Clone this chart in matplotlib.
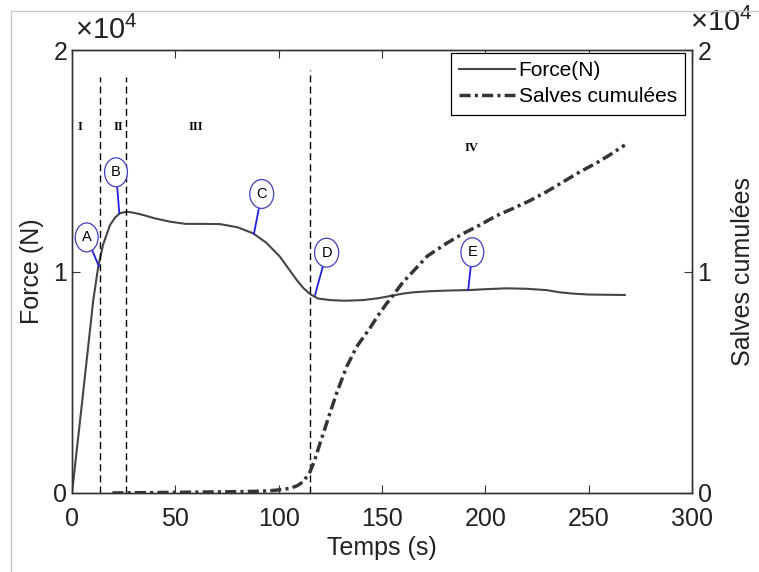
import matplotlib
matplotlib.use("Agg")
import matplotlib.pyplot as plt
from matplotlib.patches import Rectangle
from matplotlib.ticker import ScalarFormatter

plt.rcParams["font.family"] = ["Liberation Sans", "DejaVu Sans"]
plt.rcParams["mathtext.fontset"] = "custom"
plt.rcParams["mathtext.rm"] = "Liberation Sans"

# --- données ---
t_force = [0, 5, 10.3, 12.7, 15, 18.4, 21, 23.2, 26.5, 30, 34.5, 40, 47.4, 55, 63,
           71.6, 80, 87.7, 94, 100.6, 105, 108.7, 112, 115.2, 119, 124.8, 132,
           140.9, 148, 155.5, 160, 165, 173.2, 182, 191.7, 200, 210, 220, 229.6, 236,
           242.5, 250, 258, 267.5]
force = [0, 0.42, 0.871, 1.022, 1.12, 1.21, 1.245, 1.263, 1.27, 1.265, 1.255, 1.24,
         1.225, 1.215, 1.215, 1.214, 1.2, 1.172, 1.13, 1.067, 1.01, 0.962, 0.925,
         0.898, 0.878, 0.871, 0.868, 0.871, 0.879, 0.892, 0.9, 0.906, 0.911, 0.914,
         0.916, 0.92, 0.924, 0.922, 0.916, 0.906, 0.90, 0.896, 0.895, 0.894]
force = [f * 1e4 for f in force]

t_salves = [19.5, 30, 40, 50, 60, 70, 80, 90, 95.8, 100, 105.5, 109, 111.9, 115.2,
            117.5, 120, 123.2, 128, 132.9, 137.7, 144.2, 148, 152.2, 155.5, 160, 165,
            172, 181.2, 189, 197.4, 205, 213.5, 221.6, 229.6, 237.7, 245.8, 253.8,
            260, 267.5]
salves = [0, 0.001, 0.002, 0.003, 0.004, 0.005, 0.006, 0.008, 0.010, 0.014, 0.021,
          0.033, 0.051, 0.096, 0.15, 0.224, 0.315, 0.45, 0.57, 0.66, 0.745, 0.80,
          0.855, 0.894, 0.95, 1.0, 1.07, 1.127, 1.17, 1.21, 1.25, 1.285, 1.32, 1.36,
          1.405, 1.45, 1.49, 1.525, 1.571]
salves = [s * 1e4 for s in salves]

# limites des phases (s) et hauteur des traits
phase_t = [13.5, 26, 115]
phase_top = [1.88e4, 1.88e4, 1.91e4]
phase_names = ["I", "II", "III", "IV"]
phase_pos = [(3.9, 1.654e4), (22.4, 1.654e4), (60, 1.654e4), (193.3, 1.556e4)]

# points repères A..E : point sur la courbe, position de l'étiquette
marks = ["A", "B", "C", "D", "E"]
mark_pt = [(13.1, 1.022e4), (22.9, 1.263e4), (88, 1.169e4), (117.6, 0.894e4), (191.7, 0.916e4)]
mark_txt = [(7.1, 1.154e4), (21.3, 1.448e4), (91.8, 1.35e4), (123.2, 1.085e4), (193.7, 1.087e4)]

fig = plt.figure(figsize=(7.59, 5.72), dpi=100)
ax = fig.add_axes([72 / 759, 1 - 493 / 572, 620 / 759, 443 / 572])
ax2 = ax.twinx()

fig.add_artist(Rectangle((10.7 / 759, -0.1), 1.2, 1.1 - 11 / 572, transform=fig.transFigure,
                         fill=False, ec="#c8c8c8", lw=1))

l1, = ax.plot(t_force, force, color="#454545", lw=1.5, label="Force(N)")
l2, = ax2.plot(t_salves, salves, color="#353535", lw=2.5, ls=(0, (3.2, 1.2, 0.9, 1.2)),
               label="Salves cumulées")

for x, top in zip(phase_t, phase_top):
    ax.plot([x, x], [0, top], color="black", lw=1, ls=(0, (5, 3)))

for name, (x, y) in zip(phase_names, phase_pos):
    ax.text(x, y, name, family=["Liberation Serif", "DejaVu Serif"], weight="bold",
            fontsize=9, ha="center", va="center")

for name, pt, tx in zip(marks, mark_pt, mark_txt):
    ax.annotate(name, xy=pt, xytext=tx, fontsize=10.5, ha="center", va="center",
                bbox=dict(boxstyle="ellipse,pad=0.22", fc="white", ec="#4040c0", lw=0.9),
                arrowprops=dict(arrowstyle="-", color="#2020e0", lw=1.3,
                                shrinkA=0, shrinkB=0), zorder=5)

for a in (ax, ax2):
    a.set_ylim(0, 2e4)
    a.set_yticks([0, 1e4, 2e4])
    fmt = ScalarFormatter(useMathText=True)
    fmt.set_powerlimits((0, 0))
    a.yaxis.set_major_formatter(fmt)
    a.yaxis.get_offset_text().set_visible(False)
    a.tick_params(direction="in", labelsize=18, length=6, width=0.8, color="#333333",
                  labelcolor="#222222")
    for s in a.spines.values():
        s.set_linewidth(1.0)
        s.set_color("#333333")

# facteur d'échelle façon MATLAB
ax.text(0.005, 1.012, r"$\times10^{4}$", transform=ax.transAxes, fontsize=21,
        ha="left", va="bottom", color="#222222")
ax2.text(0.997, 1.03, r"$\times10^{4}$", transform=ax.transAxes, fontsize=21,
         ha="left", va="bottom", color="#222222")

ax.set_xlim(0, 300)
ax.set_xticks(range(0, 301, 50))
ax.tick_params(axis="x", top=True, pad=10)
ax.set_xlabel("Temps (s)", fontsize=18, labelpad=4, color="#222222")
ax.set_ylabel("Force (N)", fontsize=18, labelpad=6, color="#222222")
ax2.set_ylabel("Salves cumulées", fontsize=18, labelpad=14, color="#222222")

leg = ax2.legend([l1, l2], ["Force(N)", "Salves cumulées"], loc="upper right",
                 bbox_to_anchor=(0.9887, 0.994), borderaxespad=0, fancybox=False,
                 framealpha=1, edgecolor="black", fontsize=15, handlelength=2.7,
                 handletextpad=0.15, borderpad=0.4, labelspacing=0.35)
leg.get_frame().set_linewidth(0.9)

fig.savefig("out.png", dpi=100)
